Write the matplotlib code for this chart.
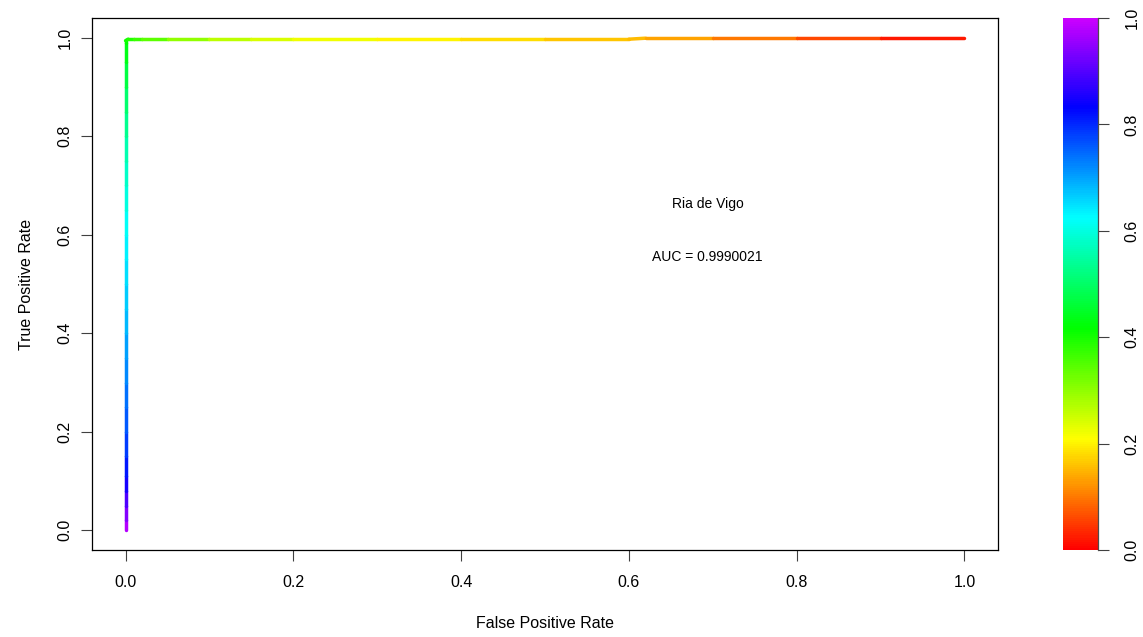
import numpy as np
import matplotlib
matplotlib.use("Agg")
import matplotlib.pyplot as plt
from matplotlib.colors import ListedColormap, Normalize, hsv_to_rgb
from matplotlib.collections import LineCollection
from matplotlib.cm import ScalarMappable

plt.rcParams["font.family"] = ["Liberation Sans", "DejaVu Sans"]

# ROC points: vertical leg at FPR = 0, then the top edge.
fpr = [0.0, 0.0, 0.0, 0.0, 0.0, 0.0, 0.0, 0.0, 0.0, 0.0, 0.0, 0.0,
       0.0, 0.0, 0.0, 0.0, 0.0, 0.0, 0.0, 0.0, 0.0, 0.0, 0.0, 0.0,
       0.003, 0.01, 0.02, 0.05, 0.1, 0.15, 0.2, 0.3, 0.4, 0.5, 0.6,
       0.62, 0.7, 0.8, 0.9, 1.0]
tpr = [0.0, 0.02, 0.05, 0.08, 0.11, 0.15, 0.2, 0.25, 0.3, 0.35, 0.4, 0.45,
       0.5, 0.55, 0.6, 0.65, 0.7, 0.75, 0.8, 0.85, 0.9, 0.95, 0.99, 0.994,
       0.997, 0.997, 0.997, 0.997, 0.997, 0.997, 0.997, 0.997, 0.997, 0.997, 0.997,
       0.999, 0.999, 0.999, 0.999, 0.999]
cutoff = [1.0, 0.96, 0.92, 0.87, 0.83, 0.80, 0.77, 0.75, 0.73, 0.71, 0.69, 0.67,
          0.66, 0.64, 0.63, 0.61, 0.59, 0.57, 0.55, 0.52, 0.49, 0.45, 0.42, 0.41,
          0.40, 0.38, 0.36, 0.32, 0.28, 0.25, 0.23, 0.21, 0.19, 0.17, 0.155,
          0.15, 0.12, 0.08, 0.04, 0.0]

site = "Ria de Vigo"
auc = 0.9990021
ticks = [0.0, 0.2, 0.4, 0.6, 0.8, 1.0]

# rainbow palette: red at 0 through to purple at 1
hues = np.linspace(0, 0.8, 256)
cmap = ListedColormap(hsv_to_rgb(np.column_stack([hues, np.ones(256), np.ones(256)])))
norm = Normalize(0, 1)

fig = plt.figure(figsize=(11.43, 6.37), dpi=100)
ax = fig.add_axes([92 / 1143, 1 - 550 / 637, 906 / 1143, 532 / 637])
cax = fig.add_axes([1063 / 1143, 1 - 550 / 637, 35 / 1143, 532 / 637])

x = np.array(fpr)
y = np.array(tpr)
c = np.array(cutoff)
pts = np.column_stack([x, y]).reshape(-1, 1, 2)
segs = np.concatenate([pts[:-1], pts[1:]], axis=1)
lc = LineCollection(segs, cmap=cmap, norm=norm, linewidths=2.5,
                    capstyle="round", joinstyle="round")
lc.set_array((c[:-1] + c[1:]) / 2)
ax.add_collection(lc)

ax.text(0.694, 0.663, site, ha="center", va="center", fontsize=10)
ax.text(0.694, 0.554, f"AUC = {auc}", ha="center", va="center", fontsize=10)

ax.set_xlim(-0.04, 1.04)
ax.set_ylim(-0.04, 1.04)
ax.set_xticks(ticks)
ax.set_yticks(ticks)
ax.set_xticklabels([f"{t:.1f}" for t in ticks])
ax.set_yticklabels([f"{t:.1f}" for t in ticks], rotation=90, va="center")
ax.tick_params(labelsize=11.5, length=8, width=0.8, pad=10, color="0.25")
ax.tick_params(axis="y", pad=6)
for s in ax.spines.values():
    s.set_linewidth(0.9)
ax.set_xlabel("False Positive Rate", fontsize=11.5, labelpad=19)
ax.set_ylabel("True Positive Rate", fontsize=11.5, labelpad=17)

cb = fig.colorbar(ScalarMappable(norm=norm, cmap=cmap), cax=cax, ticks=ticks)
cb.outline.set_visible(False)
cax.plot([1, 1], [0, 1], transform=cax.transAxes, color="0.3", lw=0.9,
         clip_on=False)
cax.set_yticklabels([f"{t:.1f}" for t in ticks], rotation=90, va="center")
cax.tick_params(labelsize=11.5, length=8, width=0.8, pad=11, color="0.25")

fig.savefig("out.png", dpi=100)
